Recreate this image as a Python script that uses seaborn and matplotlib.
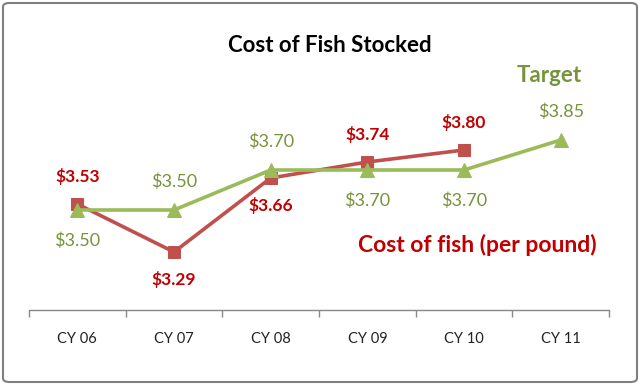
import matplotlib
matplotlib.use("Agg")
import matplotlib.pyplot as plt
from matplotlib.patches import FancyBboxPatch
import seaborn as sns
import pandas as pd

categories = ["CY 06", "CY 07", "CY 08", "CY 09", "CY 10", "CY 11"]
cost = [3.53, 3.29, 3.66, 3.74, 3.80]
target = [3.50, 3.50, 3.70, 3.70, 3.70, 3.85]
cost_pos = ["above", "below", "below", "above", "above"]
target_pos = ["below", "above", "above", "below", "below", "above"]

sns.set_theme(style="white")
plt.rcParams['font.family'] = ['Lato', 'DejaVu Sans']

red_line = "#C0504D"
green_line = "#9BBB59"
red_text = "#C00000"
green_text = "#77933C"

fig = plt.figure(figsize=(6.4, 3.85), dpi=100)
fig.patch.set_facecolor("white")
ax = fig.add_axes([29/640, 1-310/385, 580/640, 250/385])

df_cost = pd.DataFrame({"x": range(len(cost)), "v": cost})
df_target = pd.DataFrame({"x": range(len(target)), "v": target})

sns.lineplot(data=df_target, x="x", y="v", ax=ax, color=green_line, lw=2.6,
             marker="^", markersize=10, markeredgecolor=green_line, zorder=3)
sns.lineplot(data=df_cost, x="x", y="v", ax=ax, color=red_line, lw=2.6,
             marker="s", markersize=9, markeredgecolor=red_line, zorder=2)

for i, (v, p) in enumerate(zip(cost, cost_pos)):
    dy = 20 if p == "above" else -20
    ax.annotate(f"${v:.2f}", (i, v), xytext=(0, dy), textcoords="offset points",
                ha="center", va="center", color=red_text, fontsize=12.5, fontweight="bold")
for i, (v, p) in enumerate(zip(target, target_pos)):
    dy = 20 if p == "above" else -22
    ax.annotate(f"${v:.2f}", (i, v), xytext=(0, dy), textcoords="offset points",
                ha="center", va="center", color=green_text, fontsize=13)

ax.set_xlim(-0.5, len(categories) - 0.5)
ax.set_ylim(3.0, 3.5 + 150/200)
ax.set_xticks(range(len(categories)))
ax.set_xticklabels(categories, fontsize=10.5, color="#222222")
ax.set_xticks([i - 0.5 for i in range(len(categories) + 1)], minor=True)
ax.tick_params(axis="x", which="major", length=0, pad=16)
ax.tick_params(axis="x", which="minor", length=5, color="#888888", width=1, direction="out", bottom=True)
ax.set_yticks([])
ax.set_xlabel("")
ax.set_ylabel("")
for s in ["top", "right", "left"]:
    ax.spines[s].set_visible(False)
ax.spines["bottom"].set_color("#888888")
ax.spines["bottom"].set_linewidth(1)
ax.patch.set_alpha(0)

fig.text(330/640, 1-45/385, "Cost of Fish Stocked", ha="center", va="center",
         fontsize=16, fontweight="bold", color="black")
fig.text(549/640, 1-76/385, "Target", ha="center", va="center",
         fontsize=16, fontweight="bold", color=green_text)
fig.text(477/640, 1-245/385, "Cost of fish (per pound)", ha="center", va="center",
         fontsize=16.5, fontweight="bold", color=red_text)

border = FancyBboxPatch((3/640, 3/385), 634/640, 379/385,
                        boxstyle="round,pad=0,rounding_size=0.01",
                        transform=fig.transFigure, fill=False,
                        edgecolor="#7F7F7F", lw=1.5)
fig.patches.append(border)

fig.savefig("out.png", dpi=100)
